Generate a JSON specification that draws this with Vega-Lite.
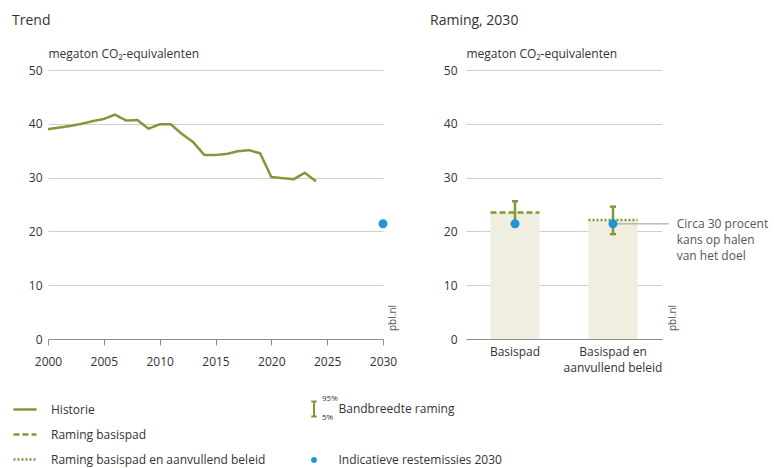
{
  "$schema": "https://vega.github.io/schema/vega-lite/v6.json",
  "padding": {"left": 12, "top": 14, "right": 5, "bottom": 5},
  "config": {
    "font": "Open Sans",
    "view": {"stroke": null},
    "axis": {"labelFont": "Open Sans", "labelColor": "#333333", "labelFontSize": 12, "titleFont": "Open Sans", "titleFontWeight": "normal", "titleColor": "#333333", "titleFontSize": 12, "gridColor": "#cfcfcf", "domainColor": "#8c8c8c", "tickColor": "#8c8c8c"},
    "title": {"font": "Open Sans", "fontSize": 14, "fontWeight": "normal", "color": "#333333", "anchor": "start", "frame": "group", "dx": -36, "offset": 19},
    "legend": {"labelFont": "Open Sans", "labelFontSize": 12, "labelColor": "#333333", "labelLimit": 400}
  },
  "datasets": {
    "historie": [
      {"year": 2000, "value": 39.0, "serie": "Historie"},
      {"year": 2001, "value": 39.3, "serie": "Historie"},
      {"year": 2002, "value": 39.6, "serie": "Historie"},
      {"year": 2003, "value": 40.0, "serie": "Historie"},
      {"year": 2004, "value": 40.5, "serie": "Historie"},
      {"year": 2005, "value": 40.9, "serie": "Historie"},
      {"year": 2006, "value": 41.7, "serie": "Historie"},
      {"year": 2007, "value": 40.6, "serie": "Historie"},
      {"year": 2008, "value": 40.7, "serie": "Historie"},
      {"year": 2009, "value": 39.1, "serie": "Historie"},
      {"year": 2010, "value": 39.9, "serie": "Historie"},
      {"year": 2011, "value": 39.9, "serie": "Historie"},
      {"year": 2012, "value": 38.1, "serie": "Historie"},
      {"year": 2013, "value": 36.6, "serie": "Historie"},
      {"year": 2014, "value": 34.2, "serie": "Historie"},
      {"year": 2015, "value": 34.2, "serie": "Historie"},
      {"year": 2016, "value": 34.4, "serie": "Historie"},
      {"year": 2017, "value": 34.9, "serie": "Historie"},
      {"year": 2018, "value": 35.1, "serie": "Historie"},
      {"year": 2019, "value": 34.5, "serie": "Historie"},
      {"year": 2020, "value": 30.1, "serie": "Historie"},
      {"year": 2021, "value": 29.9, "serie": "Historie"},
      {"year": 2022, "value": 29.7, "serie": "Historie"},
      {"year": 2023, "value": 30.9, "serie": "Historie"},
      {"year": 2024, "value": 29.3, "serie": "Historie"}
    ],
    "rest2030": [
      {"year": 2030, "value": 21.4, "type": "Indicatieve restemissies 2030", "label": "pbl.nl", "pct": "95%"}
    ],
    "raming": [
      {"cat": "Basispad", "value": 23.5, "low": 21.0, "high": 25.6, "rest": 21.4, "serie": "Raming basispad", "type": "Indicatieve restemissies 2030", "note": null},
      {"cat": "Basispad en aanvullend beleid", "value": 22.1, "low": 19.5, "high": 24.6, "rest": 21.4, "serie": "Raming basispad en aanvullend beleid", "type": "Indicatieve restemissies 2030", "note": ["Circa 30 procent", "kans op halen", "van het doel"]}
    ]
  },
  "hconcat": [
    {
      "width": 335,
      "height": 269,
      "title": {"text": "Trend"},
      "layer": [
        {
          "data": {"name": "historie"},
          "mark": {"type": "line", "color": "#85963a", "strokeWidth": 2.5},
          "encoding": {
            "x": {"field": "year", "type": "quantitative", "scale": {"domain": [2000, 2030], "nice": false},
                  "axis": {"title": null, "values": [2000, 2005, 2010, 2015, 2020, 2025, 2030], "format": "d", "grid": false, "tickSize": 6, "labelPadding": 11, "labelFlush": false}},
            "y": {"field": "value", "type": "quantitative", "scale": {"domain": [0, 50], "nice": false},
                  "axis": {"title": "megaton CO₂-equivalenten", "titleAngle": 0, "titleAlign": "left", "titleBaseline": "alphabetic", "titleX": 0, "titleY": -13, "values": [0, 10, 20, 30, 40, 50], "domain": false, "ticks": false, "tickSize": 0, "labelPadding": 6, "grid": true}},
            "strokeDash": {"field": "serie", "type": "nominal",
              "scale": {"domain": ["Historie", "Raming basispad", "Raming basispad en aanvullend beleid"], "range": [[1, 0], [6, 3], [2, 2]]},
              "legend": {"title": null, "orient": "none", "legendX": -36, "legendY": 326.5, "symbolType": "stroke", "symbolSize": 529, "symbolStrokeWidth": 2.5, "symbolStrokeColor": "#85963a", "labelOffset": 13, "rowPadding": 6}}
          }
        },
        {
          "data": {"name": "rest2030"},
          "mark": {"type": "point", "filled": true, "size": 661},
          "encoding": {
            "x": {"field": "year", "type": "quantitative"},
            "y": {"field": "value", "type": "quantitative"},
            "opacity": {"field": "pct", "type": "ordinal",
              "scale": {"domain": ["95%", "5%"], "range": [1, 1]},
              "legend": {"title": null, "orient": "none", "legendX": 266, "legendY": 325, "symbolSize": 0, "symbolOpacity": 0, "symbolStrokeWidth": 0, "labelOffset": 0, "labelFontSize": 8, "rowPadding": 11}},
            "shape": {"field": "type", "type": "nominal",
              "scale": {"domain": ["Bandbreedte raming", "Indicatieve restemissies 2030"], "range": ["M-0.32,-1H0.32V-0.76H0.12V0.76H0.32V1H-0.32V0.76H-0.12V-0.76H-0.32Z", "M0.35,0A0.35,0.35 0 1,1 -0.35,0A0.35,0.35 0 1,1 0.35,0Z"]},
              "legend": {"title": null, "orient": "none", "legendX": 256.5, "legendY": 329.5, "symbolSize": 289, "labelOffset": 15, "rowPadding": 30, "symbolOpacity": 1}},
            "color": {"field": "type", "type": "nominal",
              "scale": {"domain": ["Bandbreedte raming", "Indicatieve restemissies 2030"], "range": ["#85963a", "#1f97d4"]},
              "legend": {"title": null, "orient": "none", "legendX": 256.5, "legendY": 329.5, "symbolSize": 289, "labelOffset": 15, "rowPadding": 30, "symbolOpacity": 1}}
          }
        },
        {
          "data": {"name": "rest2030"},
          "mark": {"type": "text", "angle": 270, "align": "left", "baseline": "top", "dx": 8, "dy": 5, "fontSize": 10, "color": "#555555"},
          "encoding": {
            "x": {"datum": 2030, "type": "quantitative"},
            "y": {"datum": 0, "type": "quantitative"},
            "text": {"field": "label"}
          }
        }
      ]
    },
    {
      "width": 196,
      "height": 269,
      "title": {"text": "Raming, 2030"},
      "data": {"name": "raming"},
      "layer": [
        {
          "mark": {"type": "bar", "color": "#efeee0"},
          "encoding": {
            "x": {"field": "cat", "type": "nominal", "sort": null, "scale": {"paddingInner": 0.5, "paddingOuter": 0.25},
                  "axis": {"title": null, "labelAngle": 0, "ticks": false, "tickSize": 0, "labelPadding": 7, "labelLineHeight": 16,
                           "labelExpr": "datum.label == 'Basispad en aanvullend beleid' ? ['Basispad en', 'aanvullend beleid'] : datum.label"}},
            "y": {"field": "value", "type": "quantitative", "scale": {"domain": [0, 50], "nice": false},
                  "axis": {"title": "megaton CO₂-equivalenten", "titleAngle": 0, "titleAlign": "left", "titleBaseline": "alphabetic", "titleX": 0, "titleY": -13, "values": [0, 10, 20, 30, 40, 50], "domain": false, "ticks": false, "tickSize": 0, "labelPadding": 9, "grid": true}}
          }
        },
        {
          "mark": {"type": "rule", "color": "#85963a", "strokeWidth": 2.5},
          "encoding": {
            "x": {"field": "cat", "type": "nominal", "sort": null, "bandPosition": 0},
            "x2": {"field": "cat", "bandPosition": 1},
            "y": {"field": "value", "type": "quantitative"},
            "strokeDash": {"field": "serie", "type": "nominal"}
          }
        },
        {
          "mark": {"type": "rule", "color": "#85963a", "strokeWidth": 2.5},
          "encoding": {
            "x": {"field": "cat", "type": "nominal", "sort": null},
            "y": {"field": "low", "type": "quantitative"},
            "y2": {"field": "high"}
          }
        },
        {
          "mark": {"type": "tick", "orient": "horizontal", "color": "#85963a", "size": 6, "thickness": 2.5, "opacity": 1},
          "encoding": {
            "x": {"field": "cat", "type": "nominal", "sort": null},
            "y": {"field": "high", "type": "quantitative"}
          }
        },
        {
          "mark": {"type": "tick", "orient": "horizontal", "color": "#85963a", "size": 6, "thickness": 2.5, "opacity": 1},
          "encoding": {
            "x": {"field": "cat", "type": "nominal", "sort": null},
            "y": {"field": "low", "type": "quantitative"}
          }
        },
        {
          "transform": [{"filter": "datum.note != null"}],
          "mark": {"type": "rule", "color": "#9a9a9a", "strokeWidth": 1},
          "encoding": {
            "x": {"field": "cat", "type": "nominal", "sort": null, "bandPosition": 0.5},
            "x2": {"field": "cat", "bandPosition": 1.64},
            "y": {"field": "rest", "type": "quantitative"}
          }
        },
        {
          "mark": {"type": "point", "filled": true, "opacity": 1, "size": 661},
          "encoding": {
            "x": {"field": "cat", "type": "nominal", "sort": null},
            "y": {"field": "rest", "type": "quantitative"},
            "shape": {"field": "type", "type": "nominal",
              "legend": {"title": null, "orient": "none", "legendX": 256.5, "legendY": 329.5, "symbolSize": 289, "labelOffset": 15, "rowPadding": 30, "symbolOpacity": 1}},
            "color": {"field": "type", "type": "nominal",
              "legend": {"title": null, "orient": "none", "legendX": 256.5, "legendY": 329.5, "symbolSize": 289, "labelOffset": 15, "rowPadding": 30, "symbolOpacity": 1}}
          }
        },
        {
          "transform": [{"filter": "datum.note != null"}],
          "mark": {"type": "text", "align": "left", "baseline": "middle", "fontSize": 12, "lineHeight": 16, "color": "#555555"},
          "encoding": {
            "x": {"field": "cat", "type": "nominal", "sort": null, "bandPosition": 1.8},
            "y": {"field": "rest", "type": "quantitative"},
            "text": {"field": "note"}
          }
        },
        {
          "transform": [{"filter": "datum.note != null"}],
          "mark": {"type": "text", "text": "pbl.nl", "angle": 270, "align": "left", "baseline": "top", "dx": 8, "dy": 6, "fontSize": 10, "color": "#555555"},
          "encoding": {
            "x": {"field": "cat", "type": "nominal", "sort": null, "bandPosition": 1.5},
            "y": {"datum": 0, "type": "quantitative"}
          }
        }
      ]
    }
  ],
  "spacing": 32
}
